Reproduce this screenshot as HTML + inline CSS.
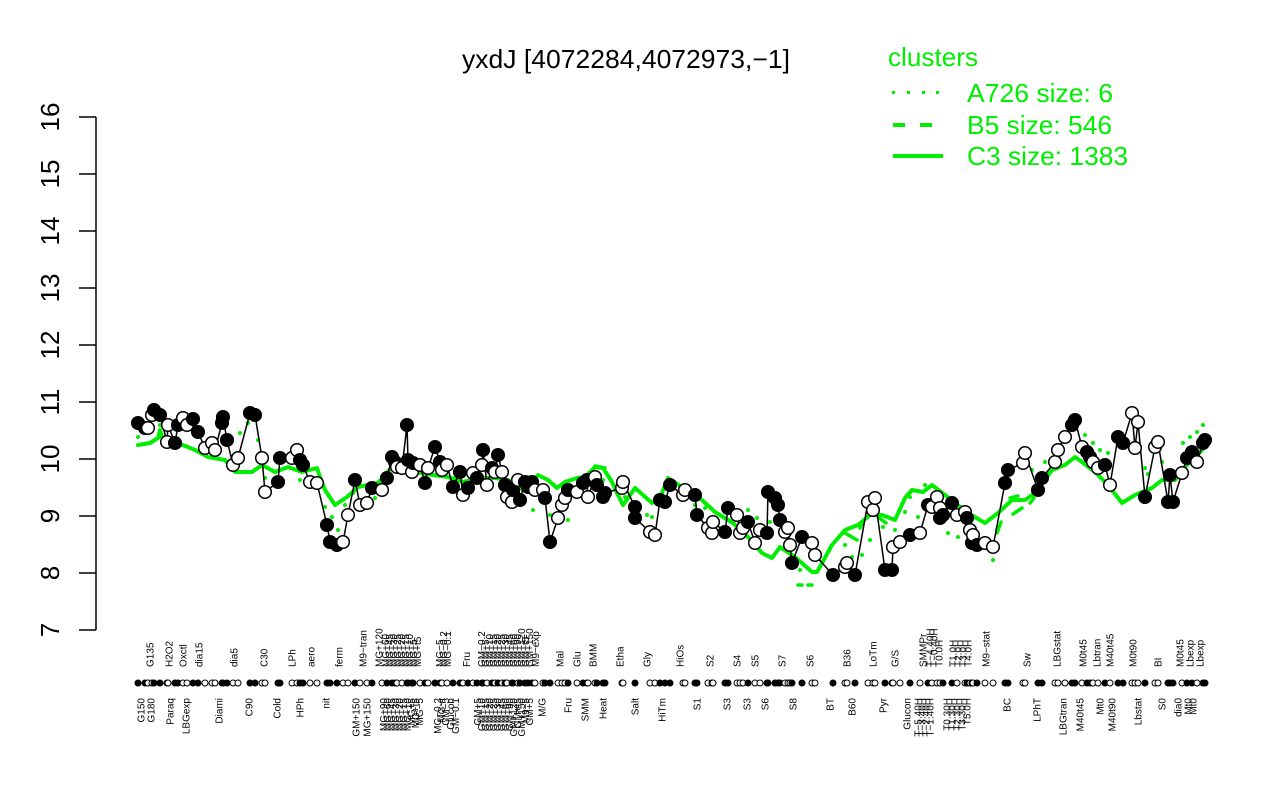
<!DOCTYPE html>
<html>
<head>
<meta charset="utf-8">
<style>
html,body{margin:0;padding:0;background:#fff;}
svg{display:block;font-family:"Liberation Sans",Arial,sans-serif;}
.f{fill:#000;stroke:#000;stroke-width:1.5}
.o{fill:#fff;stroke:#000;stroke-width:1.5}
.rf{fill:#000;stroke:#000;stroke-width:1}
.ro{fill:#fff;stroke:#000;stroke-width:1}
.lab{font-size:10px;fill:#000}
.g{fill:#00ee00}
</style>
</head>
<body>
<svg width="1280" height="800" viewBox="0 0 1280 800" xmlns="http://www.w3.org/2000/svg">
<rect width="1280" height="800" fill="#fff"/>

<!-- title -->
<text x="462" y="68" font-size="26" textLength="328" lengthAdjust="spacingAndGlyphs" fill="#000">yxdJ [4072284,4072973,−1]</text>

<!-- y axis -->
<g stroke="#000" stroke-width="1.5" fill="none">
<line x1="96" y1="117" x2="96" y2="630"/>
<line x1="79" y1="117" x2="96" y2="117"/>
<line x1="79" y1="174" x2="96" y2="174"/>
<line x1="79" y1="231" x2="96" y2="231"/>
<line x1="79" y1="288" x2="96" y2="288"/>
<line x1="79" y1="345" x2="96" y2="345"/>
<line x1="79" y1="402" x2="96" y2="402"/>
<line x1="79" y1="459" x2="96" y2="459"/>
<line x1="79" y1="516" x2="96" y2="516"/>
<line x1="79" y1="573" x2="96" y2="573"/>
<line x1="79" y1="630" x2="96" y2="630"/>
</g>
<g font-size="26" fill="#000" text-anchor="middle">
<text transform="translate(59,117) rotate(-90)">16</text>
<text transform="translate(59,174) rotate(-90)">15</text>
<text transform="translate(59,231) rotate(-90)">14</text>
<text transform="translate(59,288) rotate(-90)">13</text>
<text transform="translate(59,345) rotate(-90)">12</text>
<text transform="translate(59,402) rotate(-90)">11</text>
<text transform="translate(59,459) rotate(-90)">10</text>
<text transform="translate(59,516) rotate(-90)">9</text>
<text transform="translate(59,573) rotate(-90)">8</text>
<text transform="translate(59,630) rotate(-90)">7</text>
</g>

<!-- legend -->
<g fill="#00ee00" font-size="26">
<text x="888" y="66" textLength="90" lengthAdjust="spacingAndGlyphs">clusters</text>
<text x="967" y="102" textLength="146" lengthAdjust="spacingAndGlyphs">A726 size: 6</text>
<text x="967" y="134" textLength="145" lengthAdjust="spacingAndGlyphs">B5 size: 546</text>
<text x="967" y="165" textLength="161" lengthAdjust="spacingAndGlyphs">C3 size: 1383</text>
</g>
<g fill="#00ee00">
<rect x="892" y="91" width="3" height="3"/>
<rect x="907" y="91" width="3" height="3"/>
<rect x="922" y="91" width="3" height="3"/>
<rect x="936" y="91" width="3" height="3"/>
</g>
<g stroke="#00ee00" stroke-width="4">
<line x1="893" y1="125" x2="905" y2="125"/>
<line x1="920" y1="125" x2="932" y2="125"/>
<line x1="893" y1="156" x2="943" y2="156"/>
</g>

<!-- green solid C3 -->
<polyline fill="none" stroke="#00ee00" stroke-width="4" stroke-linejoin="round" stroke-linecap="round" points="138,445 150,443 158,438 160,430 163,440 172,445 183,445 195,450 208,457 225,460 235,472 252,472 262,465 275,472 288,467 302,472 317,468 320,477 325,490 335,505 347,497 358,487 378,483 392,467 402,468 415,472 433,475 448,477 463,482 480,478 495,478 508,480 523,490 538,475 548,480 557,488 565,482 577,478 585,477 595,467 603,468 612,482 617,493 623,505 635,488 643,495 652,503 662,493 668,478 682,487 702,500 715,512 733,523 748,537 762,553 772,558 780,547 795,557 812,572 817,572 832,545 845,530 858,525 870,515 882,515 895,520 905,498 912,490 923,492 932,485 945,495 968,513 985,523 998,513 1012,500 1025,500 1035,493 1052,470 1065,465 1075,457 1082,462 1095,472 1108,485 1122,503 1135,495 1152,488 1162,480 1175,480 1185,467 1202,450 1207,445"/>

<!-- green dashed B5 fragments -->
<g stroke="#00ee00" stroke-width="3.5" stroke-linecap="round">
<line x1="595" y1="466" x2="605" y2="468"/>
<line x1="798" y1="585" x2="802" y2="585"/>
<line x1="808" y1="585" x2="812" y2="585"/>
<line x1="845" y1="533" x2="857" y2="540"/>
<line x1="860" y1="528" x2="864" y2="520"/>
<line x1="878" y1="517" x2="886" y2="523"/>
<line x1="997" y1="533" x2="1001" y2="522"/>
<line x1="1013" y1="514" x2="1022" y2="508"/>
<line x1="1030" y1="503" x2="1034" y2="498"/>
<line x1="1010" y1="498" x2="1018" y2="496"/>
</g>

<!-- green dotted A726 -->
<g class="g">
<circle cx="138" cy="437" r="2"/><circle cx="160" cy="425" r="2"/><circle cx="240" cy="433" r="2"/><circle cx="248" cy="423" r="2"/><circle cx="258" cy="440" r="2"/><circle cx="260" cy="453" r="2"/><circle cx="265" cy="478" r="2"/><circle cx="300" cy="480" r="2"/><circle cx="325" cy="507" r="2"/><circle cx="332" cy="517" r="2"/><circle cx="338" cy="530" r="2"/><circle cx="345" cy="505" r="2"/><circle cx="353" cy="493" r="2"/><circle cx="375" cy="498" r="2"/><circle cx="395" cy="463" r="2"/><circle cx="430" cy="463" r="2"/><circle cx="455" cy="478" r="2"/><circle cx="470" cy="480" r="2"/><circle cx="510" cy="495" r="2"/><circle cx="533" cy="510" r="2"/><circle cx="550" cy="515" r="2"/><circle cx="568" cy="520" r="2"/><circle cx="603" cy="480" r="2"/><circle cx="625" cy="497" r="2"/><circle cx="647" cy="515" r="2"/><circle cx="652" cy="517" r="2"/><circle cx="670" cy="480" r="2"/><circle cx="695" cy="505" r="2"/><circle cx="705" cy="508" r="2"/><circle cx="748" cy="510" r="2"/><circle cx="757" cy="518" r="2"/><circle cx="770" cy="522" r="2"/><circle cx="800" cy="570" r="2"/><circle cx="830" cy="548" r="2"/><circle cx="845" cy="545" r="2"/><circle cx="852" cy="557" r="2"/><circle cx="862" cy="555" r="2"/><circle cx="870" cy="540" r="2"/><circle cx="883" cy="527" r="2"/><circle cx="895" cy="530" r="2"/><circle cx="905" cy="512" r="2"/><circle cx="910" cy="497" r="2"/><circle cx="918" cy="517" r="2"/><circle cx="925" cy="485" r="2"/><circle cx="948" cy="533" r="2"/><circle cx="958" cy="537" r="2"/><circle cx="993" cy="560" r="2"/><circle cx="997" cy="530" r="2"/><circle cx="1032" cy="470" r="2"/><circle cx="1045" cy="462" r="2"/><circle cx="1085" cy="435" r="2"/><circle cx="1093" cy="443" r="2"/><circle cx="1100" cy="450" r="2"/><circle cx="1108" cy="453" r="2"/><circle cx="1145" cy="468" r="2"/><circle cx="1148" cy="474" r="2"/><circle cx="1162" cy="462" r="2"/><circle cx="1183" cy="443" r="2"/><circle cx="1190" cy="437" r="2"/><circle cx="1197" cy="432" r="2"/><circle cx="1203" cy="425" r="2"/>
</g>

<!-- black connecting line -->
<polyline fill="none" stroke="#000" stroke-width="1.5" stroke-linejoin="round" points="138,423 145,428 148,428 152,415 154,410 160,415 167,442 168,425 175,443 178,425 183,418 187,425 193,419 198,432 205,448 212,443 215,450 222,423 223,417 227,440 233,465 238,458 250,413 255,415 262,458 265,492 278,482 280,458 292,458 297,450 300,460 303,465 310,482 317,483 327,525 330,542 337,545 343,542 348,515 355,480 360,505 367,503 372,488 382,490 387,478 392,457 395,462 397,467 402,468 407,425 408,460 412,472 413,463 420,465 425,483 428,468 435,447 440,462 442,470 447,465 453,487 460,472 463,495 468,488 473,473 477,478 482,465 483,450 487,485 492,468 495,472 498,455 502,472 505,485 507,497 512,502 513,490 518,480 520,500 525,482 528,487 532,482 535,490 543,490 545,498 550,542 558,518 562,505 565,498 568,490 577,492 583,483 587,480 588,497 595,477 597,485 603,497 605,493 622,488 623,482 635,507 635,518 650,532 655,535 660,500 665,502 670,485 683,495 685,490 695,495 697,515 708,528 712,533 713,522 725,532 728,508 737,515 740,533 743,528 748,522 755,543 760,530 767,533 768,492 775,498 778,505 780,520 785,532 788,528 790,545 792,563 802,537 812,543 815,555 833,575 845,567 847,563 855,575 868,502 873,510 875,498 885,570 892,570 893,547 900,542 910,535 920,533 928,505 932,507 937,497 940,508 940,518 943,515 952,503 957,515 965,512 967,518 970,530 972,543 973,535 977,545 985,543 993,547 1005,483 1008,470 1023,463 1025,453 1038,490 1042,478 1055,462 1058,450 1065,437 1072,425 1075,420 1082,447 1087,452 1090,457 1093,462 1098,468 1105,465 1110,485 1118,437 1123,443 1132,413 1135,448 1138,422 1145,497 1155,447 1158,442 1168,502 1170,475 1173,502 1182,473 1187,458 1192,452 1197,462 1203,443 1205,440"/>

<!-- data points -->
<g>
<circle class="f" cx="138" cy="423" r="6.3"/><circle class="f" cx="145" cy="428" r="6.3"/><circle class="o" cx="148" cy="428" r="6.3"/><circle class="o" cx="152" cy="415" r="6.3"/><circle class="f" cx="154" cy="410" r="6.3"/><circle class="f" cx="160" cy="415" r="6.3"/><circle class="o" cx="167" cy="442" r="6.3"/><circle class="o" cx="168" cy="425" r="6.3"/><circle class="f" cx="175" cy="443" r="6.3"/><circle class="f" cx="178" cy="425" r="6.3"/><circle class="o" cx="183" cy="418" r="6.3"/><circle class="o" cx="187" cy="425" r="6.3"/><circle class="f" cx="193" cy="419" r="6.3"/><circle class="f" cx="198" cy="432" r="6.3"/><circle class="o" cx="205" cy="448" r="6.3"/><circle class="o" cx="212" cy="443" r="6.3"/><circle class="o" cx="215" cy="450" r="6.3"/><circle class="f" cx="222" cy="423" r="6.3"/><circle class="f" cx="223" cy="417" r="6.3"/><circle class="f" cx="227" cy="440" r="6.3"/><circle class="o" cx="233" cy="465" r="6.3"/><circle class="o" cx="238" cy="458" r="6.3"/><circle class="f" cx="250" cy="413" r="6.3"/><circle class="f" cx="255" cy="415" r="6.3"/><circle class="o" cx="262" cy="458" r="6.3"/><circle class="o" cx="265" cy="492" r="6.3"/><circle class="f" cx="278" cy="482" r="6.3"/><circle class="f" cx="280" cy="458" r="6.3"/><circle class="o" cx="292" cy="458" r="6.3"/><circle class="o" cx="297" cy="450" r="6.3"/><circle class="f" cx="300" cy="460" r="6.3"/><circle class="f" cx="303" cy="465" r="6.3"/><circle class="o" cx="310" cy="482" r="6.3"/><circle class="o" cx="317" cy="483" r="6.3"/><circle class="f" cx="327" cy="525" r="6.3"/><circle class="f" cx="330" cy="542" r="6.3"/><circle class="f" cx="337" cy="545" r="6.3"/><circle class="o" cx="343" cy="542" r="6.3"/><circle class="o" cx="348" cy="515" r="6.3"/><circle class="f" cx="355" cy="480" r="6.3"/><circle class="o" cx="360" cy="505" r="6.3"/><circle class="o" cx="367" cy="503" r="6.3"/><circle class="f" cx="372" cy="488" r="6.3"/><circle class="o" cx="382" cy="490" r="6.3"/><circle class="f" cx="387" cy="478" r="6.3"/><circle class="f" cx="392" cy="457" r="6.3"/><circle class="f" cx="395" cy="462" r="6.3"/><circle class="o" cx="397" cy="467" r="6.3"/><circle class="o" cx="402" cy="468" r="6.3"/><circle class="f" cx="407" cy="425" r="6.3"/><circle class="f" cx="408" cy="460" r="6.3"/><circle class="o" cx="412" cy="472" r="6.3"/><circle class="f" cx="413" cy="463" r="6.3"/><circle class="o" cx="420" cy="465" r="6.3"/><circle class="f" cx="425" cy="483" r="6.3"/><circle class="o" cx="428" cy="468" r="6.3"/><circle class="f" cx="435" cy="447" r="6.3"/><circle class="f" cx="440" cy="462" r="6.3"/><circle class="o" cx="442" cy="470" r="6.3"/><circle class="o" cx="447" cy="465" r="6.3"/><circle class="f" cx="453" cy="487" r="6.3"/><circle class="f" cx="460" cy="472" r="6.3"/><circle class="o" cx="463" cy="495" r="6.3"/><circle class="f" cx="468" cy="488" r="6.3"/><circle class="o" cx="473" cy="473" r="6.3"/><circle class="f" cx="477" cy="478" r="6.3"/><circle class="o" cx="482" cy="465" r="6.3"/><circle class="f" cx="483" cy="450" r="6.3"/><circle class="o" cx="487" cy="485" r="6.3"/><circle class="f" cx="492" cy="468" r="6.3"/><circle class="o" cx="495" cy="472" r="6.3"/><circle class="f" cx="498" cy="455" r="6.3"/><circle class="o" cx="502" cy="472" r="6.3"/><circle class="f" cx="505" cy="485" r="6.3"/><circle class="o" cx="507" cy="497" r="6.3"/><circle class="o" cx="512" cy="502" r="6.3"/><circle class="f" cx="513" cy="490" r="6.3"/><circle class="o" cx="518" cy="480" r="6.3"/><circle class="f" cx="520" cy="500" r="6.3"/><circle class="f" cx="525" cy="482" r="6.3"/><circle class="f" cx="528" cy="487" r="6.3"/><circle class="f" cx="532" cy="482" r="6.3"/><circle class="o" cx="535" cy="490" r="6.3"/><circle class="o" cx="543" cy="490" r="6.3"/><circle class="f" cx="545" cy="498" r="6.3"/><circle class="f" cx="550" cy="542" r="6.3"/><circle class="o" cx="558" cy="518" r="6.3"/><circle class="o" cx="562" cy="505" r="6.3"/><circle class="o" cx="565" cy="498" r="6.3"/><circle class="f" cx="568" cy="490" r="6.3"/><circle class="o" cx="577" cy="492" r="6.3"/><circle class="f" cx="583" cy="483" r="6.3"/><circle class="f" cx="587" cy="480" r="6.3"/><circle class="o" cx="588" cy="497" r="6.3"/><circle class="o" cx="595" cy="477" r="6.3"/><circle class="f" cx="597" cy="485" r="6.3"/><circle class="f" cx="603" cy="497" r="6.3"/><circle class="f" cx="605" cy="493" r="6.3"/><circle class="o" cx="622" cy="488" r="6.3"/><circle class="o" cx="623" cy="482" r="6.3"/><circle class="f" cx="635" cy="507" r="6.3"/><circle class="f" cx="635" cy="518" r="6.3"/><circle class="o" cx="650" cy="532" r="6.3"/><circle class="o" cx="655" cy="535" r="6.3"/><circle class="f" cx="660" cy="500" r="6.3"/><circle class="f" cx="665" cy="502" r="6.3"/><circle class="f" cx="670" cy="485" r="6.3"/><circle class="o" cx="683" cy="495" r="6.3"/><circle class="o" cx="685" cy="490" r="6.3"/><circle class="f" cx="695" cy="495" r="6.3"/><circle class="f" cx="697" cy="515" r="6.3"/><circle class="o" cx="708" cy="528" r="6.3"/><circle class="o" cx="712" cy="533" r="6.3"/><circle class="o" cx="713" cy="522" r="6.3"/><circle class="f" cx="725" cy="532" r="6.3"/><circle class="f" cx="728" cy="508" r="6.3"/><circle class="o" cx="737" cy="515" r="6.3"/><circle class="o" cx="740" cy="533" r="6.3"/><circle class="o" cx="743" cy="528" r="6.3"/><circle class="f" cx="748" cy="522" r="6.3"/><circle class="o" cx="755" cy="543" r="6.3"/><circle class="o" cx="760" cy="530" r="6.3"/><circle class="f" cx="767" cy="533" r="6.3"/><circle class="f" cx="768" cy="492" r="6.3"/><circle class="f" cx="775" cy="498" r="6.3"/><circle class="f" cx="778" cy="505" r="6.3"/><circle class="f" cx="780" cy="520" r="6.3"/><circle class="o" cx="785" cy="532" r="6.3"/><circle class="o" cx="788" cy="528" r="6.3"/><circle class="o" cx="790" cy="545" r="6.3"/><circle class="f" cx="792" cy="563" r="6.3"/><circle class="f" cx="802" cy="537" r="6.3"/><circle class="o" cx="812" cy="543" r="6.3"/><circle class="o" cx="815" cy="555" r="6.3"/><circle class="f" cx="833" cy="575" r="6.3"/><circle class="o" cx="845" cy="567" r="6.3"/><circle class="o" cx="847" cy="563" r="6.3"/><circle class="f" cx="855" cy="575" r="6.3"/><circle class="o" cx="868" cy="502" r="6.3"/><circle class="o" cx="873" cy="510" r="6.3"/><circle class="o" cx="875" cy="498" r="6.3"/><circle class="f" cx="885" cy="570" r="6.3"/><circle class="f" cx="892" cy="570" r="6.3"/><circle class="o" cx="893" cy="547" r="6.3"/><circle class="o" cx="900" cy="542" r="6.3"/><circle class="f" cx="910" cy="535" r="6.3"/><circle class="o" cx="920" cy="533" r="6.3"/><circle class="f" cx="928" cy="505" r="6.3"/><circle class="o" cx="932" cy="507" r="6.3"/><circle class="o" cx="937" cy="497" r="6.3"/><circle class="o" cx="940" cy="508" r="6.3"/><circle class="f" cx="940" cy="518" r="6.3"/><circle class="f" cx="943" cy="515" r="6.3"/><circle class="f" cx="952" cy="503" r="6.3"/><circle class="o" cx="957" cy="515" r="6.3"/><circle class="o" cx="965" cy="512" r="6.3"/><circle class="f" cx="967" cy="518" r="6.3"/><circle class="o" cx="970" cy="530" r="6.3"/><circle class="f" cx="972" cy="543" r="6.3"/><circle class="o" cx="973" cy="535" r="6.3"/><circle class="f" cx="977" cy="545" r="6.3"/><circle class="o" cx="985" cy="543" r="6.3"/><circle class="o" cx="993" cy="547" r="6.3"/><circle class="f" cx="1005" cy="483" r="6.3"/><circle class="f" cx="1008" cy="470" r="6.3"/><circle class="o" cx="1023" cy="463" r="6.3"/><circle class="o" cx="1025" cy="453" r="6.3"/><circle class="f" cx="1038" cy="490" r="6.3"/><circle class="f" cx="1042" cy="478" r="6.3"/><circle class="o" cx="1055" cy="462" r="6.3"/><circle class="o" cx="1058" cy="450" r="6.3"/><circle class="o" cx="1065" cy="437" r="6.3"/><circle class="f" cx="1072" cy="425" r="6.3"/><circle class="f" cx="1075" cy="420" r="6.3"/><circle class="o" cx="1082" cy="447" r="6.3"/><circle class="f" cx="1087" cy="452" r="6.3"/><circle class="f" cx="1090" cy="457" r="6.3"/><circle class="o" cx="1093" cy="462" r="6.3"/><circle class="o" cx="1098" cy="468" r="6.3"/><circle class="f" cx="1105" cy="465" r="6.3"/><circle class="o" cx="1110" cy="485" r="6.3"/><circle class="f" cx="1118" cy="437" r="6.3"/><circle class="f" cx="1123" cy="443" r="6.3"/><circle class="o" cx="1132" cy="413" r="6.3"/><circle class="o" cx="1135" cy="448" r="6.3"/><circle class="o" cx="1138" cy="422" r="6.3"/><circle class="f" cx="1145" cy="497" r="6.3"/><circle class="o" cx="1155" cy="447" r="6.3"/><circle class="o" cx="1158" cy="442" r="6.3"/><circle class="f" cx="1168" cy="502" r="6.3"/><circle class="f" cx="1170" cy="475" r="6.3"/><circle class="f" cx="1173" cy="502" r="6.3"/><circle class="o" cx="1182" cy="473" r="6.3"/><circle class="f" cx="1187" cy="458" r="6.3"/><circle class="f" cx="1192" cy="452" r="6.3"/><circle class="o" cx="1197" cy="462" r="6.3"/><circle class="f" cx="1203" cy="443" r="6.3"/><circle class="f" cx="1205" cy="440" r="6.3"/>
</g>

<!-- rug -->
<g>
<circle class="rf" cx="138" cy="683" r="3"/><circle class="rf" cx="145" cy="683" r="3"/><circle class="ro" cx="148" cy="683" r="3"/><circle class="ro" cx="152" cy="683" r="3"/><circle class="rf" cx="154" cy="683" r="3"/><circle class="rf" cx="160" cy="683" r="3"/><circle class="ro" cx="167" cy="683" r="3"/><circle class="ro" cx="168" cy="683" r="3"/><circle class="rf" cx="175" cy="683" r="3"/><circle class="rf" cx="178" cy="683" r="3"/><circle class="ro" cx="183" cy="683" r="3"/><circle class="ro" cx="187" cy="683" r="3"/><circle class="rf" cx="193" cy="683" r="3"/><circle class="rf" cx="198" cy="683" r="3"/><circle class="ro" cx="205" cy="683" r="3"/><circle class="ro" cx="212" cy="683" r="3"/><circle class="ro" cx="215" cy="683" r="3"/><circle class="rf" cx="222" cy="683" r="3"/><circle class="rf" cx="223" cy="683" r="3"/><circle class="rf" cx="227" cy="683" r="3"/><circle class="ro" cx="233" cy="683" r="3"/><circle class="ro" cx="238" cy="683" r="3"/><circle class="rf" cx="250" cy="683" r="3"/><circle class="rf" cx="255" cy="683" r="3"/><circle class="ro" cx="262" cy="683" r="3"/><circle class="ro" cx="265" cy="683" r="3"/><circle class="rf" cx="278" cy="683" r="3"/><circle class="rf" cx="280" cy="683" r="3"/><circle class="ro" cx="292" cy="683" r="3"/><circle class="ro" cx="297" cy="683" r="3"/><circle class="rf" cx="300" cy="683" r="3"/><circle class="rf" cx="303" cy="683" r="3"/><circle class="ro" cx="310" cy="683" r="3"/><circle class="ro" cx="317" cy="683" r="3"/><circle class="rf" cx="327" cy="683" r="3"/><circle class="rf" cx="330" cy="683" r="3"/><circle class="rf" cx="337" cy="683" r="3"/><circle class="ro" cx="343" cy="683" r="3"/><circle class="ro" cx="348" cy="683" r="3"/><circle class="rf" cx="355" cy="683" r="3"/><circle class="ro" cx="360" cy="683" r="3"/><circle class="ro" cx="367" cy="683" r="3"/><circle class="rf" cx="372" cy="683" r="3"/><circle class="ro" cx="382" cy="683" r="3"/><circle class="rf" cx="387" cy="683" r="3"/><circle class="rf" cx="392" cy="683" r="3"/><circle class="rf" cx="395" cy="683" r="3"/><circle class="ro" cx="397" cy="683" r="3"/><circle class="ro" cx="402" cy="683" r="3"/><circle class="rf" cx="407" cy="683" r="3"/><circle class="rf" cx="408" cy="683" r="3"/><circle class="ro" cx="412" cy="683" r="3"/><circle class="rf" cx="413" cy="683" r="3"/><circle class="ro" cx="420" cy="683" r="3"/><circle class="rf" cx="425" cy="683" r="3"/><circle class="ro" cx="428" cy="683" r="3"/><circle class="rf" cx="435" cy="683" r="3"/><circle class="rf" cx="440" cy="683" r="3"/><circle class="ro" cx="442" cy="683" r="3"/><circle class="ro" cx="447" cy="683" r="3"/><circle class="rf" cx="453" cy="683" r="3"/><circle class="rf" cx="460" cy="683" r="3"/><circle class="ro" cx="463" cy="683" r="3"/><circle class="rf" cx="468" cy="683" r="3"/><circle class="ro" cx="473" cy="683" r="3"/><circle class="rf" cx="477" cy="683" r="3"/><circle class="ro" cx="482" cy="683" r="3"/><circle class="rf" cx="483" cy="683" r="3"/><circle class="ro" cx="487" cy="683" r="3"/><circle class="rf" cx="492" cy="683" r="3"/><circle class="ro" cx="495" cy="683" r="3"/><circle class="rf" cx="498" cy="683" r="3"/><circle class="ro" cx="502" cy="683" r="3"/><circle class="rf" cx="505" cy="683" r="3"/><circle class="ro" cx="507" cy="683" r="3"/><circle class="ro" cx="512" cy="683" r="3"/><circle class="rf" cx="513" cy="683" r="3"/><circle class="ro" cx="518" cy="683" r="3"/><circle class="rf" cx="520" cy="683" r="3"/><circle class="rf" cx="525" cy="683" r="3"/><circle class="rf" cx="528" cy="683" r="3"/><circle class="rf" cx="532" cy="683" r="3"/><circle class="ro" cx="535" cy="683" r="3"/><circle class="ro" cx="543" cy="683" r="3"/><circle class="rf" cx="545" cy="683" r="3"/><circle class="rf" cx="550" cy="683" r="3"/><circle class="ro" cx="558" cy="683" r="3"/><circle class="ro" cx="562" cy="683" r="3"/><circle class="ro" cx="565" cy="683" r="3"/><circle class="rf" cx="568" cy="683" r="3"/><circle class="ro" cx="577" cy="683" r="3"/><circle class="rf" cx="583" cy="683" r="3"/><circle class="rf" cx="587" cy="683" r="3"/><circle class="ro" cx="588" cy="683" r="3"/><circle class="ro" cx="595" cy="683" r="3"/><circle class="rf" cx="597" cy="683" r="3"/><circle class="rf" cx="603" cy="683" r="3"/><circle class="rf" cx="605" cy="683" r="3"/><circle class="ro" cx="622" cy="683" r="3"/><circle class="ro" cx="623" cy="683" r="3"/><circle class="rf" cx="635" cy="683" r="3"/><circle class="ro" cx="650" cy="683" r="3"/><circle class="ro" cx="655" cy="683" r="3"/><circle class="rf" cx="660" cy="683" r="3"/><circle class="rf" cx="665" cy="683" r="3"/><circle class="rf" cx="670" cy="683" r="3"/><circle class="ro" cx="683" cy="683" r="3"/><circle class="ro" cx="685" cy="683" r="3"/><circle class="rf" cx="695" cy="683" r="3"/><circle class="rf" cx="697" cy="683" r="3"/><circle class="ro" cx="708" cy="683" r="3"/><circle class="ro" cx="712" cy="683" r="3"/><circle class="ro" cx="713" cy="683" r="3"/><circle class="rf" cx="725" cy="683" r="3"/><circle class="rf" cx="728" cy="683" r="3"/><circle class="ro" cx="737" cy="683" r="3"/><circle class="ro" cx="740" cy="683" r="3"/><circle class="ro" cx="743" cy="683" r="3"/><circle class="rf" cx="748" cy="683" r="3"/><circle class="ro" cx="755" cy="683" r="3"/><circle class="ro" cx="760" cy="683" r="3"/><circle class="rf" cx="767" cy="683" r="3"/><circle class="rf" cx="768" cy="683" r="3"/><circle class="rf" cx="775" cy="683" r="3"/><circle class="rf" cx="778" cy="683" r="3"/><circle class="rf" cx="780" cy="683" r="3"/><circle class="ro" cx="785" cy="683" r="3"/><circle class="ro" cx="788" cy="683" r="3"/><circle class="ro" cx="790" cy="683" r="3"/><circle class="rf" cx="792" cy="683" r="3"/><circle class="rf" cx="802" cy="683" r="3"/><circle class="ro" cx="812" cy="683" r="3"/><circle class="ro" cx="815" cy="683" r="3"/><circle class="rf" cx="833" cy="683" r="3"/><circle class="ro" cx="845" cy="683" r="3"/><circle class="ro" cx="847" cy="683" r="3"/><circle class="rf" cx="855" cy="683" r="3"/><circle class="ro" cx="868" cy="683" r="3"/><circle class="ro" cx="873" cy="683" r="3"/><circle class="ro" cx="875" cy="683" r="3"/><circle class="rf" cx="885" cy="683" r="3"/><circle class="rf" cx="892" cy="683" r="3"/><circle class="ro" cx="893" cy="683" r="3"/><circle class="ro" cx="900" cy="683" r="3"/><circle class="rf" cx="910" cy="683" r="3"/><circle class="ro" cx="920" cy="683" r="3"/><circle class="rf" cx="928" cy="683" r="3"/><circle class="ro" cx="932" cy="683" r="3"/><circle class="ro" cx="937" cy="683" r="3"/><circle class="ro" cx="940" cy="683" r="3"/><circle class="rf" cx="943" cy="683" r="3"/><circle class="rf" cx="952" cy="683" r="3"/><circle class="ro" cx="957" cy="683" r="3"/><circle class="ro" cx="965" cy="683" r="3"/><circle class="rf" cx="967" cy="683" r="3"/><circle class="ro" cx="970" cy="683" r="3"/><circle class="rf" cx="972" cy="683" r="3"/><circle class="ro" cx="973" cy="683" r="3"/><circle class="rf" cx="977" cy="683" r="3"/><circle class="ro" cx="985" cy="683" r="3"/><circle class="ro" cx="993" cy="683" r="3"/><circle class="rf" cx="1005" cy="683" r="3"/><circle class="rf" cx="1008" cy="683" r="3"/><circle class="ro" cx="1023" cy="683" r="3"/><circle class="ro" cx="1025" cy="683" r="3"/><circle class="rf" cx="1038" cy="683" r="3"/><circle class="rf" cx="1042" cy="683" r="3"/><circle class="ro" cx="1055" cy="683" r="3"/><circle class="ro" cx="1058" cy="683" r="3"/><circle class="ro" cx="1065" cy="683" r="3"/><circle class="rf" cx="1072" cy="683" r="3"/><circle class="rf" cx="1075" cy="683" r="3"/><circle class="ro" cx="1082" cy="683" r="3"/><circle class="rf" cx="1087" cy="683" r="3"/><circle class="rf" cx="1090" cy="683" r="3"/><circle class="ro" cx="1093" cy="683" r="3"/><circle class="ro" cx="1098" cy="683" r="3"/><circle class="rf" cx="1105" cy="683" r="3"/><circle class="ro" cx="1110" cy="683" r="3"/><circle class="rf" cx="1118" cy="683" r="3"/><circle class="rf" cx="1123" cy="683" r="3"/><circle class="ro" cx="1132" cy="683" r="3"/><circle class="ro" cx="1135" cy="683" r="3"/><circle class="ro" cx="1138" cy="683" r="3"/><circle class="rf" cx="1145" cy="683" r="3"/><circle class="ro" cx="1155" cy="683" r="3"/><circle class="ro" cx="1158" cy="683" r="3"/><circle class="rf" cx="1168" cy="683" r="3"/><circle class="rf" cx="1170" cy="683" r="3"/><circle class="rf" cx="1173" cy="683" r="3"/><circle class="ro" cx="1182" cy="683" r="3"/><circle class="rf" cx="1187" cy="683" r="3"/><circle class="rf" cx="1192" cy="683" r="3"/><circle class="ro" cx="1197" cy="683" r="3"/><circle class="rf" cx="1203" cy="683" r="3"/><circle class="rf" cx="1205" cy="683" r="3"/>
</g>

<!-- upper labels (start at y=667, reading upward) -->
<g class="lab" text-anchor="start">
<text transform="translate(153.5,667) rotate(-90)">G135</text>
<text transform="translate(172.5,667) rotate(-90)">H2O2</text>
<text transform="translate(186.5,667) rotate(-90)">Oxctl</text>
<text transform="translate(202.5,667) rotate(-90)">dia15</text>
<text transform="translate(237.5,667) rotate(-90)">dia5</text>
<text transform="translate(267.5,667) rotate(-90)">C30</text>
<text transform="translate(295.5,667) rotate(-90)">LPh</text>
<text transform="translate(314.5,667) rotate(-90)">aero</text>
<text transform="translate(342.5,667) rotate(-90)">ferm</text>
<text transform="translate(366.5,667) rotate(-90)">M9−tran</text>
<text transform="translate(382.5,667) rotate(-90)">MG+120</text>
<text transform="translate(389,667) rotate(-90)">MG+60</text>
<text transform="translate(393,667) rotate(-90)">MG+45</text>
<text transform="translate(397,667) rotate(-90)">MG+30</text>
<text transform="translate(401,667) rotate(-90)">MG+25</text>
<text transform="translate(405,667) rotate(-90)">MG+20</text>
<text transform="translate(409,667) rotate(-90)">MG+15</text>
<text transform="translate(413,667) rotate(-90)">MG+10</text>
<text transform="translate(417,667) rotate(-90)">MG+5</text>
<text transform="translate(421,667) rotate(-90)">MG+t5</text>
<text transform="translate(443,667) rotate(-90)">MG−5</text>
<text transform="translate(447,667) rotate(-90)">MG−0.2</text>
<text transform="translate(451,667) rotate(-90)">MG−0.1</text>
<text transform="translate(470,667) rotate(-90)">Fru</text>
<text transform="translate(485,667) rotate(-90)">GM−0.2</text>
<text transform="translate(489,667) rotate(-90)">GM+5</text>
<text transform="translate(493,667) rotate(-90)">GM+10</text>
<text transform="translate(497,667) rotate(-90)">GM+15</text>
<text transform="translate(501,667) rotate(-90)">GM+20</text>
<text transform="translate(505,667) rotate(-90)">GM+25</text>
<text transform="translate(509,667) rotate(-90)">GM+30</text>
<text transform="translate(513,667) rotate(-90)">GM+45</text>
<text transform="translate(517,667) rotate(-90)">GM+60</text>
<text transform="translate(521,667) rotate(-90)">GM+90</text>
<text transform="translate(525,667) rotate(-90)">GM+120</text>
<text transform="translate(529,667) rotate(-90)">GM+t5</text>
<text transform="translate(533,667) rotate(-90)">GM+150</text>
<text transform="translate(539,667) rotate(-90)">M9−exp</text>
<text transform="translate(563.5,667) rotate(-90)">Mal</text>
<text transform="translate(580.5,667) rotate(-90)">Glu</text>
<text transform="translate(596.5,667) rotate(-90)">BMM</text>
<text transform="translate(623.5,667) rotate(-90)">Etha</text>
<text transform="translate(650.5,667) rotate(-90)">Gly</text>
<text transform="translate(683.5,667) rotate(-90)">HiOs</text>
<text transform="translate(713.5,667) rotate(-90)">S2</text>
<text transform="translate(740.5,667) rotate(-90)">S4</text>
<text transform="translate(758.5,667) rotate(-90)">S5</text>
<text transform="translate(785.5,667) rotate(-90)">S7</text>
<text transform="translate(813.5,667) rotate(-90)">S6</text>
<text transform="translate(850.5,667) rotate(-90)">B36</text>
<text transform="translate(876.5,667) rotate(-90)">LoTm</text>
<text transform="translate(898.5,667) rotate(-90)">G/S</text>
<text transform="translate(926.5,667) rotate(-90)">SMMPr</text>
<text transform="translate(933.5,667) rotate(-90)">T−4.40H</text>
<text transform="translate(937.5,667) rotate(-90)">T−0.40H</text>
<text transform="translate(942.5,667) rotate(-90)">T0.0H</text>
<text transform="translate(956.5,667) rotate(-90)">T1.0H</text>
<text transform="translate(961.5,667) rotate(-90)">T2.0H</text>
<text transform="translate(966.5,667) rotate(-90)">T3.0H</text>
<text transform="translate(971.5,667) rotate(-90)">T4.0H</text>
<text transform="translate(989.5,667) rotate(-90)">M9−stat</text>
<text transform="translate(1030.5,667) rotate(-90)">Sw</text>
<text transform="translate(1060.5,667) rotate(-90)">LBGstat</text>
<text transform="translate(1086.5,667) rotate(-90)">M0t45</text>
<text transform="translate(1100.5,667) rotate(-90)">Lbtran</text>
<text transform="translate(1113.5,667) rotate(-90)">M40t45</text>
<text transform="translate(1136.5,667) rotate(-90)">M0t90</text>
<text transform="translate(1161.5,667) rotate(-90)">BI</text>
<text transform="translate(1183.5,667) rotate(-90)">M0t45</text>
<text transform="translate(1193.5,667) rotate(-90)">Lbexp</text>
<text transform="translate(1203.5,667) rotate(-90)">Lbexp</text>
</g>

<!-- lower labels (end at y=698, extend downward) -->
<g class="lab" text-anchor="end">
<text transform="translate(144.5,698) rotate(-90)">G150</text>
<text transform="translate(154.5,698) rotate(-90)">G180</text>
<text transform="translate(173.5,698) rotate(-90)">Paraq</text>
<text transform="translate(189.5,698) rotate(-90)">LBGexp</text>
<text transform="translate(222.5,698) rotate(-90)">Diami</text>
<text transform="translate(252.5,698) rotate(-90)">C90</text>
<text transform="translate(280.5,698) rotate(-90)">Cold</text>
<text transform="translate(303.5,698) rotate(-90)">HPh</text>
<text transform="translate(329.5,698) rotate(-90)">nit</text>
<text transform="translate(359.5,698) rotate(-90)">GM+150</text>
<text transform="translate(370.5,698) rotate(-90)">MG+150</text>
<text transform="translate(387,698) rotate(-90)">MG+90</text>
<text transform="translate(391,698) rotate(-90)">MG+60</text>
<text transform="translate(395,698) rotate(-90)">MG+45</text>
<text transform="translate(399,698) rotate(-90)">MG+30</text>
<text transform="translate(403,698) rotate(-90)">MG+20</text>
<text transform="translate(407,698) rotate(-90)">MG+15</text>
<text transform="translate(411,698) rotate(-90)">MG+10</text>
<text transform="translate(415,698) rotate(-90)">MG+5</text>
<text transform="translate(419,698) rotate(-90)">MG+t5</text>
<text transform="translate(423,698) rotate(-90)">MG−5</text>
<text transform="translate(441,698) rotate(-90)">MG−0.2</text>
<text transform="translate(445,698) rotate(-90)">MG−t</text>
<text transform="translate(449,698) rotate(-90)">GM−5</text>
<text transform="translate(454,698) rotate(-90)">Glucon</text>
<text transform="translate(459,698) rotate(-90)">GM−0.1</text>
<text transform="translate(481,698) rotate(-90)">GM+5</text>
<text transform="translate(485,698) rotate(-90)">GM+10</text>
<text transform="translate(489,698) rotate(-90)">GM+15</text>
<text transform="translate(493,698) rotate(-90)">GM+20</text>
<text transform="translate(497,698) rotate(-90)">GM+25</text>
<text transform="translate(501,698) rotate(-90)">GM+30</text>
<text transform="translate(505,698) rotate(-90)">GM+45</text>
<text transform="translate(509,698) rotate(-90)">GM+60</text>
<text transform="translate(513,698) rotate(-90)">GM+90</text>
<text transform="translate(517,698) rotate(-90)">GM+120</text>
<text transform="translate(521,698) rotate(-90)">GM+t5</text>
<text transform="translate(525,698) rotate(-90)">GM+150</text>
<text transform="translate(529,698) rotate(-90)">M9−5</text>
<text transform="translate(533,698) rotate(-90)">GM+5</text>
<text transform="translate(545.5,698) rotate(-90)">M/G</text>
<text transform="translate(571.5,698) rotate(-90)">Fru</text>
<text transform="translate(588.5,698) rotate(-90)">SMM</text>
<text transform="translate(606.5,698) rotate(-90)">Heat</text>
<text transform="translate(638.5,698) rotate(-90)">Salt</text>
<text transform="translate(665.5,698) rotate(-90)">HiTm</text>
<text transform="translate(700.5,698) rotate(-90)">S1</text>
<text transform="translate(730.5,698) rotate(-90)">S3</text>
<text transform="translate(750.5,698) rotate(-90)">S3</text>
<text transform="translate(768.5,698) rotate(-90)">S6</text>
<text transform="translate(796.5,698) rotate(-90)">S8</text>
<text transform="translate(833.5,698) rotate(-90)">BT</text>
<text transform="translate(855.5,698) rotate(-90)">B60</text>
<text transform="translate(886.5,698) rotate(-90)">Pyr</text>
<text transform="translate(910.5,698) rotate(-90)">Glucon</text>
<text transform="translate(921.5,698) rotate(-90)">T−5.40H</text>
<text transform="translate(925.5,698) rotate(-90)">T−3.40H</text>
<text transform="translate(929.5,698) rotate(-90)">T−2.40H</text>
<text transform="translate(933.5,698) rotate(-90)">T−1.40H</text>
<text transform="translate(950.5,698) rotate(-90)">T0.30H</text>
<text transform="translate(955.5,698) rotate(-90)">T1.30H</text>
<text transform="translate(960.5,698) rotate(-90)">T2.30H</text>
<text transform="translate(965.5,698) rotate(-90)">T3.30H</text>
<text transform="translate(970.5,698) rotate(-90)">T5.0H</text>
<text transform="translate(1010.5,698) rotate(-90)">BC</text>
<text transform="translate(1040.5,698) rotate(-90)">LPhT</text>
<text transform="translate(1066.5,698) rotate(-90)">LBGtran</text>
<text transform="translate(1083.5,698) rotate(-90)">M40t45</text>
<text transform="translate(1103.5,698) rotate(-90)">Mt0</text>
<text transform="translate(1115.5,698) rotate(-90)">M40t90</text>
<text transform="translate(1141.5,698) rotate(-90)">Lbstat</text>
<text transform="translate(1165.5,698) rotate(-90)">S0</text>
<text transform="translate(1181.5,698) rotate(-90)">dia0</text>
<text transform="translate(1191.5,698) rotate(-90)">Mt0</text>
<text transform="translate(1196.5,698) rotate(-90)">Mt0</text>
</g>
</svg>
</body>
</html>
